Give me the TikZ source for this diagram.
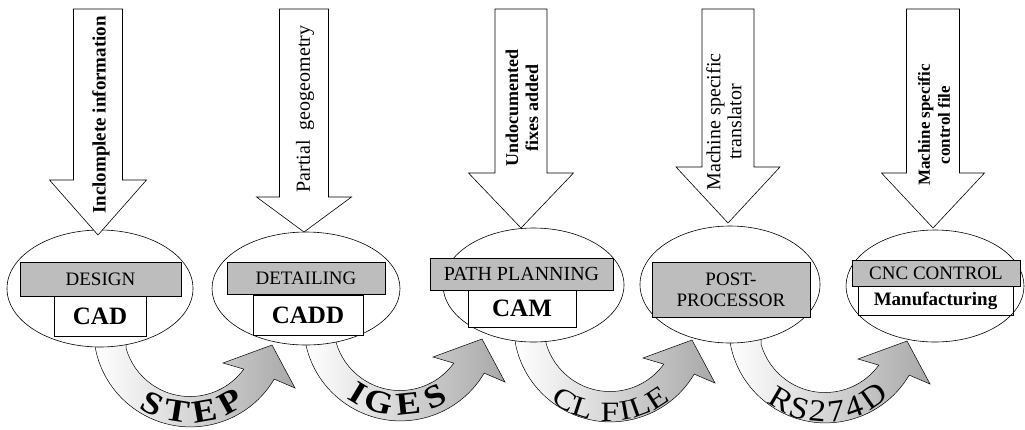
\documentclass[tikz,border=0pt]{standalone}
\usepackage{fontspec}
\setmainfont{Liberation Serif}
\usetikzlibrary{shapes.geometric}
\definecolor{boxgray}{gray}{0.74}
\definecolor{arrgray}{gray}{0.66}
\newcommand\fsz[2]{\fontsize{#1}{#2}\selectfont}
\tikzset{
  ell/.style={draw, ellipse, fill=white, line width=0.6pt, inner sep=0pt},
  graybox/.style={draw, fill=boxgray, line width=0.9pt, inner sep=0pt, font=\fsz{19}{21}, align=center},
  whitebox/.style={draw, fill=white, line width=0.9pt, inner sep=0pt, font=\fsz{25}{27}\bfseries},
  blockarrow/.style={draw, fill=white, line width=0.6pt, line join=miter},
  vtext/.style={rotate=90, align=center, inner sep=0pt},
  curvedarrow/.style={draw, line width=0.5pt, left color=white, right color=arrgray},
  arcletter/.style={anchor=base, inner sep=0pt},
}
\newcommand\curvarrow[1]{%
  \begin{scope}[shift={(#1)}]
    \draw[curvedarrow] (-95,5) -- (-94.7,17.9) arc[start angle=169.3, end angle=30.5, radius=97]
      -- (105,58) -- (82,15) -- (33,33) -- (53.8,39.1)
      arc[start angle=36, end angle=164, radius=66.5] -- (-64,5) -- cycle;
  \end{scope}}
% #1 name, #2 cx, #3 cy, #4 baseline radius, #5 font, #6 xscale, #7 list angle/letter
\newcommand\arcword[7]{%
  \foreach \a/\l [count=\i] in {#7} {
    \node[arcletter, font=#5, rotate={90-\a}, xscale=#6] (#1-\i) at ({#2+#4*cos(\a)},{#3+#4*sin(\a)}) {\l};
  }}
\begin{document}
\begin{tikzpicture}[x=1pt,y=-1pt]
\useasboundingbox (0,0) rectangle (1025,429);

% curved connectors
\coordinate (c1) at (190,330);
\coordinate (c2) at (400,324);
\coordinate (c3) at (610,325);
\coordinate (c4) at (825,326);
\curvarrow{c1}
\curvarrow{c2}
\curvarrow{c3}
\curvarrow{c4}
\arcword{step}{190}{330}{93}{\fsz{32}{32}\bfseries}{1.15}{117/S,99/T,80/E,61/P}
\arcword{iges}{400}{324}{91}{\fsz{32}{32}\bfseries}{1.15}{121/I,105/G,84/E,64/S}
\arcword{clfile}{610}{325}{96}{\fsz{28}{28}}{1.2}{121.5/C,108/L,90/F,80/I,70/L,57/E}
\arcword{rs}{825}{326}{96}{\fsz{31}{31}}{1.1}{120.5/R,107/S,95/2,82.5/7,70.5/4,55/D}

% ellipses
\node[ell, minimum width=186pt, minimum height=117pt] (e1) at (100,288.5) {};
\node[ell, minimum width=188pt, minimum height=113pt] (e2) at (306,288.5) {};
\node[ell, minimum width=181pt, minimum height=114pt] (e3) at (533.5,285) {};
\node[ell, minimum width=180pt, minimum height=117pt] (e4) at (730,284.5) {};
\node[ell, minimum width=178pt, minimum height=112pt] (e5) at (935,286) {};

% boxes
\node[graybox, minimum width=161pt, minimum height=34pt] (g1) at (100.5,279) {DESIGN};
\node[whitebox, minimum width=92pt, minimum height=40pt] (w1) at (100,316) {\raisebox{-3pt}{CAD}};
\node[graybox, minimum width=158pt, minimum height=32pt] (g2) at (306,278) {DETAILING};
\node[whitebox, minimum width=110pt, minimum height=40pt] (w2) at (308,315) {\raisebox{-2pt}{CADD}};
\node[graybox, minimum width=183pt, minimum height=32pt, font=\fsz{20}{22}] (g3) at (521.5,274) {PATH PLANNING};
\node[whitebox, minimum width=108pt, minimum height=37pt] (w3) at (522,308.5) {CAM};
\node[graybox, minimum width=158pt, minimum height=55pt] (g4) at (731,289.5) {POST-\\PROCESSOR};
\node[graybox, minimum width=168pt, minimum height=26pt] (g5) at (936,273) {CNC CONTROL};
\node[whitebox, fill=none, font=\fsz{19}{21}\bfseries, minimum width=155pt, minimum height=29pt] (w5) at (935.5,300.5) {Manufacturing};

% block arrows
\coordinate (t1) at (98,235);
\coordinate (t2) at (304,232);
\coordinate (t3) at (521,228);
\coordinate (t4) at (728,223);
\coordinate (t5) at (933,228);
\draw[blockarrow] (t1) -- ++(-48.5,-55) -- ++(24,0) -- ++(0,-171) -- ++(49,0) -- ++(0,171) -- ++(24,0) -- cycle;
\draw[blockarrow] (t2) -- ++(-47.5,-35) -- ++(23,0) -- ++(0,-188) -- ++(49,0) -- ++(0,188) -- ++(23,0) -- cycle;
\draw[blockarrow] (t3) -- ++(-52.5,-55) -- ++(26.5,0) -- ++(0,-164) -- ++(52,0) -- ++(0,164) -- ++(26.5,0) -- cycle;
\draw[blockarrow] (t4) -- ++(-52,-56) -- ++(26,0) -- ++(0,-158) -- ++(52,0) -- ++(0,158) -- ++(26,0) -- cycle;
\draw[blockarrow] (t5) -- ++(-51.5,-55) -- ++(25,0) -- ++(0,-164) -- ++(53,0) -- ++(0,164) -- ++(25,0) -- cycle;

% arrow labels
\node[vtext, font=\fsz{19}{22}\bfseries] (l1) at (101,115) {Inclomplete information};
\node[vtext, font=\fsz{20}{22}] (l2) at (305,109) {Partial\ \ geogeometry};
\node[vtext, font=\fsz{18}{20}\bfseries] (l3) at (522,108) {Undocumented\\fixes added};
\node[vtext, font=\fsz{20}{21}] (l4) at (724,122) {Machine specific\\translator};
\node[vtext, font=\fsz{17}{20}\bfseries] (l5) at (934,125) {Machine specific\\control file};
\end{tikzpicture}
\end{document}
